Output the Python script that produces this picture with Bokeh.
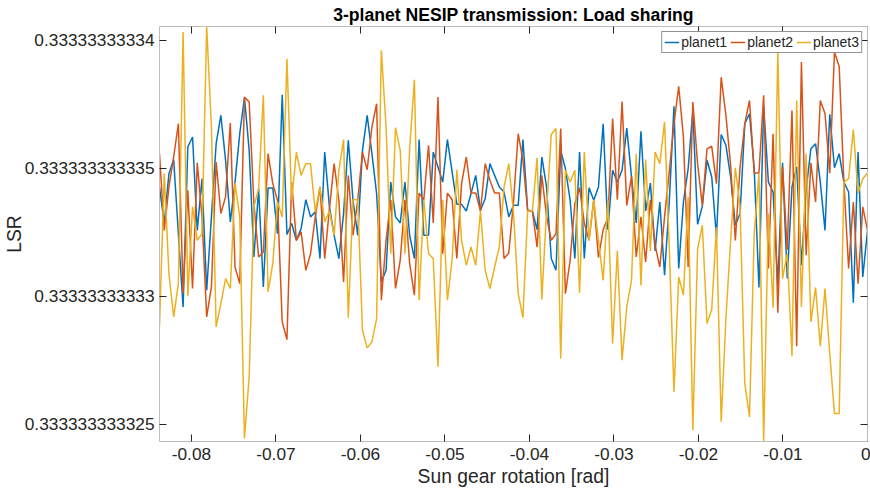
import numpy as np
from bokeh.plotting import figure
from bokeh.models import (Range1d, FixedTicker, CustomJSTickFormatter, LinearAxis,
                          Legend, LegendItem, ColumnDataSource)
from bokeh.embed import file_html
from bokeh.resources import INLINE

# ---------------- data ----------------
# Sun gear rotation samples [rad]
rotation_start = -0.08378
n_samples = 151

# LSR deviation from 1/3, in units of 1e-12
planet1_dev = [
    0.94, -0.49, 1.46, 2.01, -0.89, -3.75, 2.50, 2.89, -0.76, 1.26,
    -3.10, -0.23, 2.63, 3.74, 1.98, -0.43, 1.13, 3.02, 4.43, 2.37,
    -1.80, 0.87, -2.97, 0.90, 0.90, -0.89, 4.54, -0.92, -0.49, -1.15,
    -0.69, 0.44, -0.23, -0.04, -1.86, 2.30, 0.16, -0.95, -1.86, -0.10,
    2.76, 0.42, -0.95, 2.37, 3.74, 2.24, 0.68, -2.77, -2.32, 1.13,
    -0.23, -0.47, 1.13, -0.95, -1.86, 2.79, -0.95, -0.95, 2.30, 1.72,
    1.13, 2.79, 1.52, 0.26, 0.26, 0.00, 0.68, 1.39, 0.03, 0.48,
    1.85, 1.39, 0.94, 0.74, -0.23, 0.22, 0.22, 2.79, 0.03, 0.00,
    -0.73, 2.11, 0.94, -1.86, -2.32, 2.37, 1.65, 0.42, -1.86, 2.30,
    -1.86, 0.91, 0.42, 0.94, 3.41, -0.73, 1.59, 1.13, 1.59, 3.24,
    1.33, -0.47, 3.11, 0.00, 1.09, -1.56, 0.35, -2.51, 0.35, 4.09,
    -2.25, 0.35, 1.65, 3.93, -0.52, 0.18, 1.98, 1.33, -1.02, 2.99,
    2.57, 1.33, -0.56, -0.10, 3.41, 3.80, 1.65, -2.99, 4.09, 1.13,
    0.74, -2.90, 1.88, -2.64, 0.94, 1.72, -2.12, 0.83, 2.43, 2.63,
    1.13, -0.76, 3.78, 1.69, 2.24, 1.13, 0.74, -3.59, 2.30, -2.58, -0.76,
]
planet2_dev = [
    2.24, -0.76, 0.94, 2.11, 3.41, -3.23, 0.81, -3.03, 1.88, -0.23,
    -4.14, -2.97, 1.91, -0.10, 0.55, 3.44, -2.19, -2.84, 4.45, 4.26,
    0.29, -1.80, -1.60, 2.24, 1.07, 0.42, -4.34, -5.03, 1.13, -1.15,
    -0.82, -2.32, -1.67, -0.23, 0.94, -1.86, 0.09, 1.85, 0.42, -2.77,
    1.39, -0.95, 0.42, 2.30, 1.61, 3.28, 4.19, -3.49, -1.15, 0.44,
    -3.03, -1.93, 0.44, -2.06, -3.29, 0.70, 0.44, 2.57, -0.47, 4.45,
    -1.67, 0.70, 0.44, -1.86, 1.07, 2.11, 0.70, 0.70, 0.00, 1.85,
    1.20, 0.70, 0.70, -1.86, -1.64, 0.35, 3.02, 1.98, 0.00, 0.00,
    -1.41, 1.39, -0.21, -1.15, -0.89, 3.22, -3.23, -1.93, 0.29, 0.91,
    -0.47, -1.15, 0.44, -1.82, -0.73, -0.26, 3.61, 0.44, 4.28, 0.22,
    1.35, -1.80, -0.23, -1.99, 0.44, -1.34, -2.19, -0.23, 1.52, 3.41,
    4.87, 2.89, -2.19, 4.26, 1.85, 0.22, 2.43, 2.53, 1.07, 5.23,
    3.74, 1.78, -1.15, 1.72, 3.41, 4.32, 1.48, 1.48, 4.52, -2.25,
    3.02, -3.98, 1.72, -1.51, 3.93, -5.29, 5.82, -1.73, 1.88, 0.35,
    4.32, 3.80, 1.48, 6.21, 5.65, 1.13, -2.25, 0.35, -2.84, 0.16, -0.76,
]
planet3_dev = [
    -4.51, 1.46, -2.45, -4.14, -2.84, 6.99, -3.33, 0.16, -1.15, -0.89,
    7.21, 3.28, -4.53, -3.62, -2.64, -3.03, 1.09, -0.23, -8.89, -6.48,
    0.16, 0.87, 4.52, -3.16, -2.06, 0.35, -0.23, 5.95, 0.42, 2.30,
    1.39, 1.85, 1.85, -0.04, 0.94, -0.43, 0.00, -0.95, 1.59, 2.79,
    -4.17, 0.44, 0.44, -4.66, -5.35, -5.12, -4.21, 6.28, 3.28, -1.67,
    3.26, 2.37, -1.67, 2.43, 5.13, -3.49, 0.44, -1.67, -1.86, -6.09,
    0.44, -3.49, -1.90, 1.61, -1.15, -2.12, -1.41, -2.12, 0.00, -2.32,
    -3.03, -2.19, -1.41, 0.94, 1.85, -0.10, -3.23, -4.17, 0.00, 0.00,
    2.08, -3.46, 0.00, 2.99, 3.22, -5.77, 1.59, 1.13, 1.59, -3.20,
    2.30, -1.15, 0.44, -1.15, -2.71, 0.42, -5.18, -1.56, -5.83, -3.75,
    -2.71, 2.24, -2.90, 2.01, -1.56, 2.30, 1.85, 3.48, -1.41, -7.07,
    -2.58, -3.29, 0.55, -8.57, -1.51, -0.56, -4.40, -3.85, -0.63, -8.24,
    -4.21, -1.15, 1.69, 0.16, -6.74, -8.05, -0.89, 1.46, -9.01, -0.10,
    -3.78, 6.28, -2.64, -1.67, -5.68, 4.32, -3.75, 2.24, -4.34, -2.99,
    -5.29, -3.03, -5.57, -7.92, -7.92, 1.13, 1.26, 3.18, 0.70, 1.26, 1.48,
]

series_names = ["planet1", "planet2", "planet3"]
series_colors = ["#0072BD", "#D95319", "#EDB120"]

x_ticks = [-0.08, -0.07, -0.06, -0.05, -0.04, -0.03, -0.02, -0.01, 0.0]
y_ticks = [0.333333333325, 0.33333333333, 0.333333333335, 0.33333333334]

# ---------------- build ----------------
rotation = np.linspace(rotation_start, 0.0, n_samples)
base = 1.0 / 3.0
lsr = [base + np.array(d) * 1e-12 for d in (planet1_dev, planet2_dev, planet3_dev)]
y_min = min(a.min() for a in lsr)
y_max = max(a.max() for a in lsr)

FONT = "Liberation Sans"
DARK = "#262626"
BOX = "#bdbdbd"

p = figure(width=870, height=492, output_backend="svg", toolbar_location=None,
           x_range=Range1d(rotation_start, 0.0), y_range=Range1d(y_min, y_max),
           min_border_left=158, min_border_right=3, min_border_top=26,
           min_border_bottom=51, x_axis_type=None, y_axis_type=None)
p.grid.visible = False
p.outline_line_color = None
p.background_fill_color = "white"
p.border_fill_color = "white"

fmt = CustomJSTickFormatter(code="return tick.toString();")


def style_axis(ax, show_labels):
    ax.axis_line_color = BOX
    ax.axis_line_width = 1
    ax.major_tick_line_color = DARK
    ax.major_tick_line_width = 1
    ax.major_tick_in = 7
    ax.major_tick_out = 0
    ax.minor_tick_line_color = None
    ax.formatter = fmt
    ax.major_label_text_font = FONT
    ax.major_label_text_color = DARK
    ax.axis_label_text_font = FONT
    ax.axis_label_text_color = DARK
    ax.axis_label_text_font_style = "normal"
    if show_labels:
        ax.major_label_text_font_size = "17.3px"
        ax.axis_label_text_font_size = "19.3px"
    else:
        ax.major_label_text_font_size = "0px"
        ax.major_label_text_color = None
        ax.major_label_standoff = 0


xb = LinearAxis(ticker=FixedTicker(ticks=x_ticks), axis_label="Sun gear rotation [rad]")
style_axis(xb, True)
xb.major_label_standoff = 6
xb.axis_label_standoff = 3
p.add_layout(xb, "below")

yl = LinearAxis(ticker=FixedTicker(ticks=y_ticks), axis_label="LSR")
style_axis(yl, True)
yl.major_label_standoff = 5
yl.axis_label_standoff = -3
p.add_layout(yl, "left")

xt = LinearAxis(ticker=FixedTicker(ticks=x_ticks))
style_axis(xt, False)
p.add_layout(xt, "above")

yr = LinearAxis(ticker=FixedTicker(ticks=y_ticks))
style_axis(yr, False)
p.add_layout(yr, "right")

p.title.text = "3-planet NESIP transmission: Load sharing"
p.title.align = "center"
p.title.vertical_align = "top"
p.title.text_font = FONT
p.title.text_font_size = "17.6px"
p.title.text_font_style = "bold"
p.title.text_color = "black"
p.title.standoff = 0

items = []
for name, color, y in zip(series_names, series_colors, lsr):
    src = ColumnDataSource(dict(x=rotation, y=y))
    r = p.line("x", "y", source=src, line_color=color, line_width=1.5)
    items.append(LegendItem(label=name, renderers=[r]))

leg = Legend(items=items, orientation="horizontal", location="top_right")
leg.label_text_font = FONT
leg.label_text_font_size = "14px"
leg.label_text_color = DARK
leg.glyph_width = 15
leg.glyph_height = 14
leg.label_height = 14
leg.label_standoff = 2
leg.spacing = 3
leg.padding = 2
leg.margin = 5
leg.border_line_color = DARK
leg.border_line_width = 1
leg.background_fill_color = "white"
leg.background_fill_alpha = 1
p.add_layout(leg, "center")

open("out.html", "w").write(file_html(p, INLINE))
